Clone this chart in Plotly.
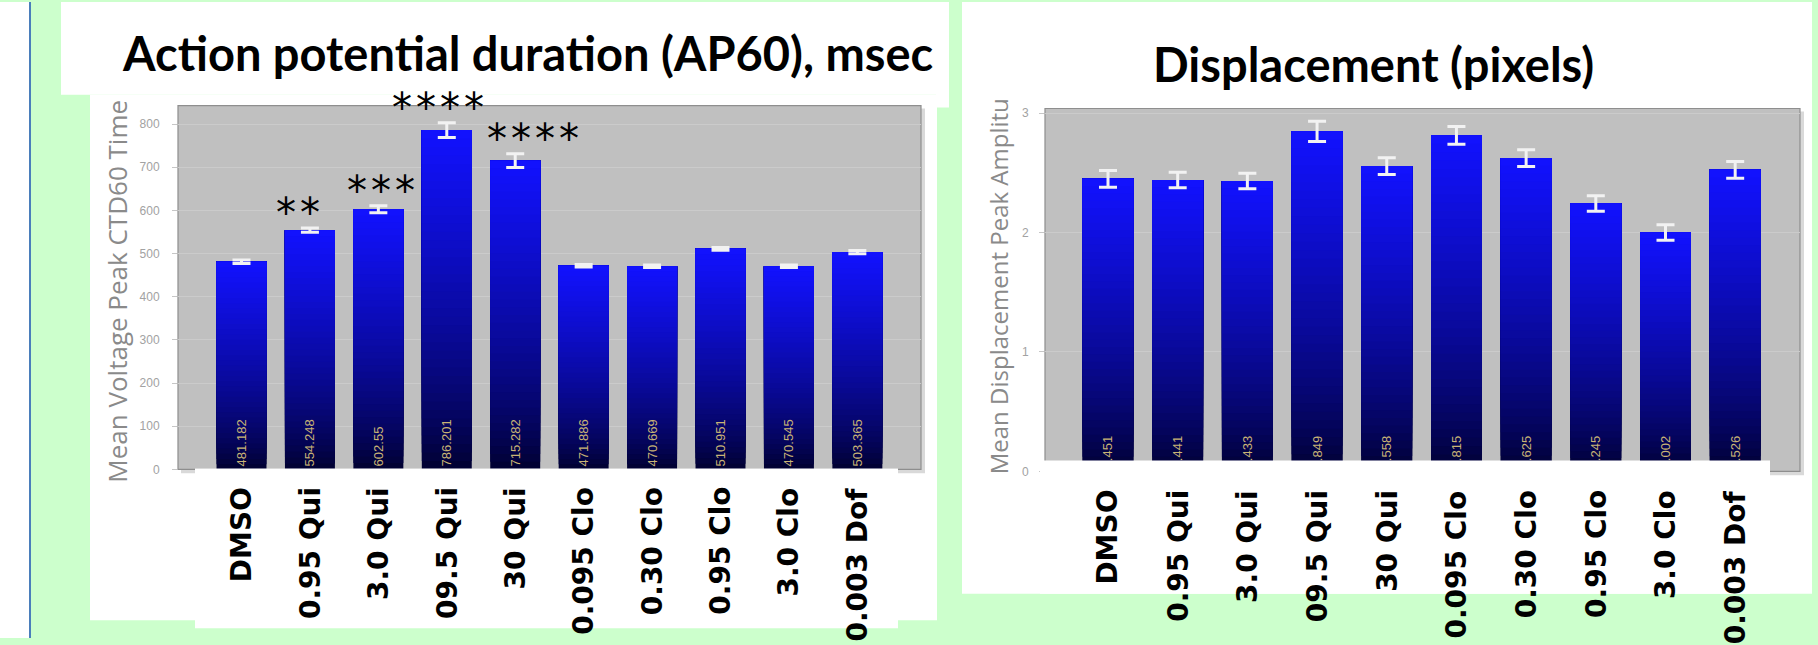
import plotly.graph_objects as go

W, H = 1818, 645

categories = ["DMSO", "0.95 Qui", "3.0 Qui", "09.5 Qui", "30 Qui",
              "0.095 Clo", "0.30 Clo", "0.95 Clo", "3.0 Clo", "0.003 Dof"]

# Action potential duration (AP60), msec
ap60_mean = [481.182, 554.248, 602.55, 786.201, 715.282,
             471.886, 470.669, 510.951, 470.545, 503.365]
ap60_err = [4, 5, 8, 17, 16, 3, 3, 3, 3, 4]
ap60_stars = ["", "**", "***", "****", "****", "", "", "", "", ""]
ap60_ticks = [0, 100, 200, 300, 400, 500, 600, 700, 800]

# Displacement (pixels)
disp_mean = [2.451, 2.441, 2.433, 2.849, 2.558,
             2.815, 2.625, 2.245, 2.002, 2.526]
disp_err = [0.07, 0.065, 0.065, 0.085, 0.07, 0.075, 0.07, 0.065, 0.065, 0.07]
disp_ticks = [0, 1, 2, 3]

N_SEG = 40
DARK = (0, 0, 44)
BRIGHT = (18, 18, 255)


def px(x):
    return x / W


def py(y):
    return 1 - y / H


def shade(t):
    t = t ** 0.75
    r, g, b = (round(d + (bb - d) * t) for d, bb in zip(DARK, BRIGHT))
    return f"rgb({r},{g},{b})"


def gradient_bars(cats, vals, xa, ya):
    # each bar is painted as stacked slices, dark at the base, bright at the top
    xs, bases, ys, cols = [], [], [], []
    for k in range(N_SEG):
        col = shade((k + 0.5) / N_SEG)
        for c, v in zip(cats, vals):
            b = v * k / N_SEG
            xs.append(c)
            bases.append(b)
            ys.append(v - b)
            cols.append(col)
    return go.Bar(x=xs, y=ys, base=bases, xaxis=xa, yaxis=ya,
                  marker=dict(color=cols, line=dict(width=0)),
                  hoverinfo="skip", showlegend=False)


def value_bars(cats, vals, errs, xa, ya):
    return go.Bar(x=cats, y=vals, xaxis=xa, yaxis=ya,
                  marker=dict(color="rgba(0,0,0,0)", line=dict(width=0)),
                  text=[str(v) for v in vals], textposition="inside",
                  insidetextanchor="start", textangle=-90,
                  textfont=dict(family="Liberation Sans", size=13, color="#c9b476"),
                  error_y=dict(type="data", array=errs, color="#f2f2f2",
                               thickness=3, width=9),
                  showlegend=False)


fig = go.Figure()
fig.add_trace(gradient_bars(categories, ap60_mean, "x", "y"))
fig.add_trace(value_bars(categories, ap60_mean, ap60_err, "x", "y"))
fig.add_trace(gradient_bars(categories, disp_mean, "x2", "y2"))
fig.add_trace(value_bars(categories, disp_mean, disp_err, "x2", "y2"))

tickfont = dict(family="Liberation Sans", size=12, color="#a2a2a2")
common_x = dict(type="category", showticklabels=False, showgrid=False,
                zeroline=False, showline=False, ticks="", fixedrange=True)
common_y = dict(ticks="outside", ticklen=5, tickcolor="#c6c6c6", tickfont=tickfont,
                showgrid=True, gridcolor="#cbcbcb", gridwidth=1, zeroline=False,
                showline=False, fixedrange=True)

fig.update_layout(
    width=W, height=H, margin=dict(l=0, r=0, t=0, b=0),
    paper_bgcolor="#ccffcc", plot_bgcolor="rgba(0,0,0,0)",
    barmode="overlay", bargap=0.27, showlegend=False,
    xaxis=dict(domain=[px(178), px(921)], range=[-0.928, 9.93], anchor="y", **common_x),
    yaxis=dict(domain=[py(474), py(105)], range=[0, 843], tickvals=ap60_ticks,
               anchor="x", ticklabelstandoff=10, **common_y),
    xaxis2=dict(domain=[px(1045), px(1800)], range=[-0.904, 9.93], anchor="y2", **common_x),
    yaxis2=dict(domain=[py(476), py(108)], range=[0, 3.04], tickvals=disp_ticks,
                anchor="x2", ticklabelstandoff=8, **common_y),
)


def rect(x0, y0, x1, y1, fill, layer="below", line_color=None, line_width=0):
    return dict(type="rect", xref="paper", yref="paper",
                x0=px(x0), x1=px(x1), y0=py(y1), y1=py(y0),
                fillcolor=fill, layer=layer,
                line=dict(color=line_color or fill, width=line_width))


shapes = [
    rect(0, 0, 30, H, "white"),
    dict(type="line", xref="paper", yref="paper", x0=px(30), x1=px(30), y0=0, y1=1,
         line=dict(color="#4a7ebb", width=2), layer="below"),
    # title card of the left chart (stepped lower edge)
    dict(type="path", xref="paper", yref="paper", layer="below",
         path=f"M {px(61)},{py(0)} L {px(949)},{py(0)} L {px(949)},{py(107)} "
              f"L {px(936)},{py(107)} L {px(936)},{py(94)} L {px(61)},{py(94)} Z",
         fillcolor="white", line=dict(width=0)),
    rect(90, 94, 937, 627, "white"),
    rect(962, 0, 1812, 600, "white"),
    # plot frames with soft shadow
    rect(181, 108, 925, 478, "#d9d9d9"),
    rect(178, 105, 921, 474, "#c0c0c0", line_color="#8e8e8e", line_width=1.2),
    rect(1048, 111, 1804, 480, "#d9d9d9"),
    rect(1045, 108, 1800, 476, "#c0c0c0", line_color="#8e8e8e", line_width=1.2),
    # white label cards under the axes
    rect(195, 473, 898, 635, "white", layer="above"),
    rect(1040, 465, 1770, 600, "white", layer="above"),
]
fig.update_layout(shapes=shapes)

annotations = [
    dict(text="<b>Action potential duration (AP60), msec</b>", xref="paper", yref="paper",
         x=px(527), y=py(52), xanchor="center", yanchor="middle", showarrow=False,
         font=dict(family="Lato", size=47, color="black")),
    dict(text="<b>Displacement (pixels)</b>", xref="paper", yref="paper",
         x=px(1373), y=py(63), xanchor="center", yanchor="middle", showarrow=False,
         font=dict(family="Lato", size=47, color="black")),
    dict(text="Mean Voltage Peak CTD60 Time", xref="paper", yref="paper",
         x=px(117), y=py(490), xanchor="center", yanchor="bottom", textangle=-90,
         showarrow=False, font=dict(family="Open Sans", size=26, color="#8a8a8a")),
    dict(text="Mean Displacement Peak Amplitu", xref="paper", yref="paper",
         x=px(998), y=py(481), xanchor="center", yanchor="bottom", textangle=-90,
         showarrow=False, font=dict(family="Open Sans", size=24, color="#8a8a8a")),
]

label_font = dict(family="DejaVu Sans", size=28, color="black", weight="bold")
for cat in categories:
    annotations.append(dict(text=cat, xref="x", yref="paper", x=cat, y=py(490),
                            xanchor="center", yanchor="top", textangle=-90,
                            showarrow=False, font=label_font))
    annotations.append(dict(text=cat, xref="x2", yref="paper", x=cat, y=py(493),
                            xanchor="center", yanchor="top", textangle=-90,
                            showarrow=False, font=label_font))

# significance marks, nudged sideways so neighbouring marks stay apart
star_xshift = [0, -12, 3, -9, 18, 0, 0, 0, 0, 0]
for cat, v, e, s, dx in zip(categories, ap60_mean, ap60_err, ap60_stars, star_xshift):
    if s:
        annotations.append(dict(text="\u200a".join(s), xref="x", yref="y", x=cat, y=v + e,
                                xanchor="center", yanchor="middle", xshift=dx, yshift=15,
                                showarrow=False,
                                font=dict(family="DejaVu Sans", size=40, color="black")))

fig.update_layout(annotations=annotations)

fig.write_html("out.html")
